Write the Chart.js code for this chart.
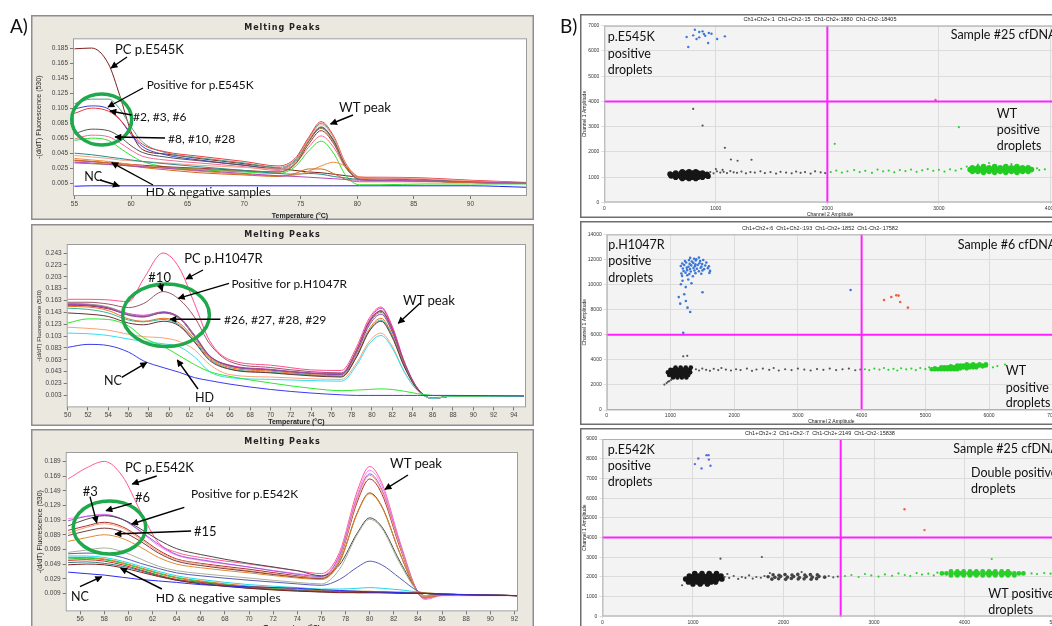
<!DOCTYPE html>
<html>
<head>
<meta charset="utf-8">
<script src="https://cdn.jsdelivr.net/npm/chart.js@4.4.1/dist/chart.umd.min.js"></script>
<style>
  html, body { margin: 0; padding: 0; background: #fff; width: 1052px; height: 626px; overflow: hidden; }
  .box { position: absolute; }
  canvas { display: block; }
  #notes { position: absolute; left: 0; top: 0; width: 1052px; height: 626px; pointer-events: none; }
  #notes text { font-family: Lato, "Open Sans", sans-serif; fill: #111; }
</style>
</head>
<body>
<div class="box" style="left:31px;top:15px;width:503px;height:205px"><canvas id="a1"></canvas></div>
<div class="box" style="left:31px;top:224.3px;width:503px;height:202px"><canvas id="a2"></canvas></div>
<div class="box" style="left:31px;top:429.3px;width:503px;height:203px"><canvas id="a3"></canvas></div>
<div class="box" style="left:580px;top:14.3px;width:480px;height:204px"><canvas id="b1"></canvas></div>
<div class="box" style="left:580px;top:221.3px;width:480px;height:204px"><canvas id="b2"></canvas></div>
<div class="box" style="left:580px;top:428.3px;width:480px;height:210px"><canvas id="b3"></canvas></div>
<svg id="notes" xmlns="http://www.w3.org/2000/svg">
  <defs>
    <marker id="head" viewBox="0 0 10 10" refX="9" refY="5" markerUnits="userSpaceOnUse" markerWidth="8" markerHeight="7" orient="auto">
      <path d="M0,0 L10,5 L0,10 z" fill="#000"/>
    </marker>
  </defs>
</svg>

<script>
// ---------- A1: p.E545K melting peaks ----------
const A1_TEMP = [55, 56.5, 58, 59, 60, 61, 63, 66, 70, 73, 74.5, 75.7, 76.8, 77.9, 79, 80.2, 82, 86, 90, 95];
const A1_XTICKS = [55, 60, 65, 70, 75, 80, 85, 90];
const A1_YTICKS = [0.005, 0.025, 0.045, 0.065, 0.085, 0.105, 0.125, 0.145, 0.165, 0.185];
const A1_PC   = [0.184, 0.185, 0.164, 0.122, 0.074, 0.050, 0.044, 0.038, 0.031, 0.025, 0.022, 0.020, 0.019, 0.017, 0.015, 0.013, 0.012, 0.010, 0.007, 0.005];
const A1_S2   = [0.111, 0.117, 0.117, 0.104, 0.080, 0.060, 0.046, 0.039, 0.032, 0.026, 0.036, 0.064, 0.085, 0.066, 0.029, 0.012, 0.011, 0.009, 0.007, 0.005];
const A1_S3   = [0.104, 0.108, 0.104, 0.090, 0.070, 0.054, 0.043, 0.036, 0.029, 0.024, 0.034, 0.061, 0.079, 0.062, 0.028, 0.011, 0.010, 0.008, 0.007, 0.005];
const A1_S6   = [0.098, 0.105, 0.101, 0.090, 0.072, 0.057, 0.047, 0.041, 0.034, 0.028, 0.038, 0.066, 0.087, 0.068, 0.031, 0.013, 0.013, 0.012, 0.009, 0.006];
const A1_S8   = [0.071, 0.077, 0.075, 0.067, 0.055, 0.046, 0.040, 0.035, 0.029, 0.024, 0.034, 0.061, 0.080, 0.062, 0.027, 0.011, 0.010, 0.008, 0.006, 0.005];
const A1_S10  = [0.064, 0.069, 0.067, 0.059, 0.049, 0.041, 0.036, 0.032, 0.027, 0.022, 0.031, 0.053, 0.068, 0.053, 0.025, 0.011, 0.012, 0.011, 0.008, 0.005];
const A1_S28  = [0.062, 0.065, 0.062, 0.052, 0.042, 0.034, 0.027, 0.023, 0.020, 0.018, 0.027, 0.048, 0.061, 0.045, 0.015, 0.003, 0.003, 0.004, 0.004, 0.004];
const A1_NEG1 = [0.045, 0.043, 0.040, 0.038, 0.036, 0.034, 0.031, 0.027, 0.022, 0.018, 0.017, 0.018, 0.017, 0.014, 0.012, 0.010, 0.009, 0.008, 0.006, 0.005];
const A1_NEG2 = [0.042, 0.040, 0.038, 0.036, 0.035, 0.034, 0.032, 0.029, 0.026, 0.024, 0.034, 0.063, 0.083, 0.066, 0.030, 0.012, 0.012, 0.011, 0.008, 0.005];
const A1_NEG3 = [0.038, 0.036, 0.034, 0.032, 0.030, 0.028, 0.025, 0.021, 0.017, 0.015, 0.016, 0.021, 0.028, 0.033, 0.027, 0.013, 0.010, 0.008, 0.006, 0.005];
const A1_NEG4 = [0.036, 0.034, 0.032, 0.030, 0.028, 0.026, 0.023, 0.019, 0.016, 0.014, 0.018, 0.024, 0.024, 0.018, 0.010, 0.007, 0.007, 0.007, 0.006, 0.005];
const A1_NEG5 = [0.035, 0.034, 0.032, 0.031, 0.030, 0.029, 0.027, 0.025, 0.022, 0.020, 0.030, 0.057, 0.075, 0.058, 0.026, 0.010, 0.009, 0.008, 0.006, 0.005];
const A1_NEG6 = [0.033, 0.032, 0.030, 0.029, 0.028, 0.027, 0.025, 0.022, 0.018, 0.015, 0.014, 0.013, 0.012, 0.011, 0.010, 0.009, 0.009, 0.008, 0.007, 0.005];
const A1_NEG7 = [0.032, 0.031, 0.030, 0.029, 0.028, 0.027, 0.026, 0.024, 0.021, 0.020, 0.031, 0.060, 0.078, 0.060, 0.026, 0.010, 0.009, 0.008, 0.006, 0.005];
const A1_NC   = [0.0010, 0.0016, 0.0016, 0.0016, 0.0016, 0.0016, 0.0016, 0.0016, 0.0016, 0.0016, 0.0016, 0.0016, 0.0016, 0.0016, 0.0016, 0.0016, 0.0016, 0.0016, 0.0016, -0.0004];

// ---------- A2: p.H1047R melting peaks ----------
const A2_TEMP = [50, 52, 54, 56, 57.5, 59.4, 61, 62.5, 64, 66, 70, 74, 77, 78.5, 79.7, 80.9, 82, 83.2, 84.5, 86, 88, 95];
const A2_XTICKS = [50, 52, 54, 56, 58, 60, 62, 64, 66, 68, 70, 72, 74, 76, 78, 80, 82, 84, 86, 88, 90, 92, 94];
const A2_YTICKS = [0.003, 0.023, 0.043, 0.063, 0.083, 0.103, 0.123, 0.143, 0.163, 0.183, 0.203, 0.223, 0.243];
const A2_PC   = [0.165, 0.165, 0.164, 0.161, 0.200, 0.243, 0.218, 0.158, 0.095, 0.063, 0.054, 0.046, 0.045, 0.085, 0.132, 0.152, 0.120, 0.060, 0.015, -0.002, 0.002, 0.002];
const A2_S10  = [0.160, 0.160, 0.157, 0.151, 0.158, 0.178, 0.165, 0.135, 0.090, 0.060, 0.050, 0.043, 0.041, 0.080, 0.126, 0.146, 0.115, 0.058, 0.015, -0.002, 0.002, 0.002];
const A2_S26  = [0.158, 0.157, 0.152, 0.140, 0.137, 0.143, 0.133, 0.102, 0.068, 0.052, 0.046, 0.040, 0.039, 0.077, 0.123, 0.143, 0.112, 0.056, 0.014, -0.002, 0.002, 0.002];
const A2_S27  = [0.156, 0.155, 0.150, 0.138, 0.135, 0.143, 0.135, 0.105, 0.070, 0.053, 0.046, 0.040, 0.038, 0.075, 0.120, 0.140, 0.110, 0.055, 0.014, -0.002, 0.002, 0.002];
const A2_S28  = [0.153, 0.152, 0.146, 0.132, 0.128, 0.133, 0.125, 0.098, 0.066, 0.050, 0.044, 0.038, 0.036, 0.071, 0.114, 0.133, 0.105, 0.053, 0.013, -0.002, 0.002, 0.002];
const A2_S29  = [0.150, 0.148, 0.142, 0.130, 0.127, 0.131, 0.122, 0.095, 0.064, 0.048, 0.042, 0.037, 0.035, 0.069, 0.111, 0.130, 0.103, 0.052, 0.013, -0.002, 0.002, 0.002];
const A2_NEG1 = [0.142, 0.140, 0.136, 0.125, 0.122, 0.128, 0.120, 0.093, 0.062, 0.047, 0.041, 0.036, 0.034, 0.068, 0.110, 0.128, 0.101, 0.051, 0.013, -0.002, 0.002, 0.002];
const A2_NEG2 = [0.157, 0.156, 0.151, 0.141, 0.138, 0.144, 0.134, 0.102, 0.069, 0.054, 0.047, 0.041, 0.040, 0.080, 0.128, 0.150, 0.118, 0.059, 0.015, -0.002, 0.002, 0.002];
const A2_NEG3 = [0.118, 0.116, 0.113, 0.106, 0.102, 0.100, 0.094, 0.080, 0.055, 0.038, 0.034, 0.031, 0.030, 0.058, 0.093, 0.108, 0.086, 0.043, 0.011, -0.002, 0.002, 0.002];
const A2_NEG4 = [0.108, 0.107, 0.104, 0.098, 0.094, 0.090, 0.085, 0.068, 0.043, 0.033, 0.030, 0.028, 0.027, 0.054, 0.089, 0.104, 0.083, 0.042, 0.011, -0.002, 0.002, 0.002];
const A2_NEG5 = [0.155, 0.154, 0.149, 0.139, 0.136, 0.142, 0.133, 0.103, 0.069, 0.053, 0.046, 0.040, 0.039, 0.078, 0.125, 0.145, 0.114, 0.057, 0.014, -0.002, 0.002, 0.002];
const A2_HD   = [0.125, 0.132, 0.131, 0.120, 0.100, 0.086, 0.070, 0.055, 0.043, 0.035, 0.024, 0.015, 0.011, 0.012, 0.013, 0.014, 0.013, 0.010, 0.006, 0.003, 0.002, 0.002];
const A2_NC   = [0.084, 0.089, 0.087, 0.076, 0.061, 0.050, 0.042, 0.033, 0.028, 0.022, 0.013, 0.007, 0.004, 0.003, 0.003, 0.003, 0.003, 0.003, 0.003, 0.003, 0.003, 0.002];

// ---------- A3: p.E542K melting peaks ----------
const A3_TEMP = [55, 56.5, 58, 59.5, 61, 62.5, 64, 66, 70, 74, 76, 77.5, 79, 80, 81, 82.5, 84, 84.6, 86, 92.3];
const A3_XTICKS = [56, 58, 60, 62, 64, 66, 68, 70, 72, 74, 76, 78, 80, 82, 84, 86, 88, 90, 92];
const A3_YTICKS = [0.009, 0.029, 0.049, 0.069, 0.089, 0.109, 0.129, 0.149, 0.169, 0.189];
const A3_PC   = [0.165, 0.180, 0.189, 0.169, 0.121, 0.078, 0.065, 0.058, 0.049, 0.040, 0.036, 0.065, 0.150, 0.182, 0.160, 0.080, 0.010, 0.001, 0.006, 0.006];
const A3_S1   = [0.111, 0.114, 0.117, 0.110, 0.093, 0.074, 0.061, 0.054, 0.045, 0.036, 0.033, 0.062, 0.145, 0.177, 0.156, 0.078, 0.010, 0.002, 0.007, 0.006];
const A3_S6   = [0.108, 0.114, 0.116, 0.110, 0.094, 0.076, 0.062, 0.055, 0.045, 0.035, 0.032, 0.060, 0.141, 0.172, 0.151, 0.076, 0.010, 0.003, 0.007, 0.006];
const A3_S2   = [0.101, 0.110, 0.115, 0.110, 0.097, 0.082, 0.070, 0.062, 0.050, 0.040, 0.033, 0.048, 0.092, 0.112, 0.100, 0.053, 0.012, 0.006, 0.008, 0.006];
const A3_S3   = [0.095, 0.101, 0.106, 0.100, 0.085, 0.068, 0.056, 0.050, 0.042, 0.033, 0.030, 0.056, 0.135, 0.165, 0.145, 0.072, 0.010, 0.003, 0.007, 0.006];
const A3_S4   = [0.091, 0.099, 0.104, 0.098, 0.083, 0.066, 0.055, 0.049, 0.040, 0.032, 0.030, 0.057, 0.139, 0.170, 0.149, 0.074, 0.010, 0.003, 0.007, 0.006];
const A3_S5   = [0.088, 0.094, 0.098, 0.093, 0.080, 0.064, 0.053, 0.047, 0.039, 0.031, 0.029, 0.052, 0.120, 0.146, 0.128, 0.064, 0.010, 0.004, 0.007, 0.006];
const A3_S15  = [0.080, 0.085, 0.089, 0.084, 0.072, 0.058, 0.049, 0.044, 0.037, 0.030, 0.028, 0.051, 0.119, 0.145, 0.127, 0.064, 0.010, 0.004, 0.007, 0.006];
const A3_S7   = [0.065, 0.068, 0.071, 0.066, 0.056, 0.046, 0.040, 0.036, 0.030, 0.024, 0.022, 0.042, 0.090, 0.110, 0.098, 0.050, 0.011, 0.006, 0.008, 0.006];
const A3_S8   = [0.063, 0.064, 0.063, 0.058, 0.050, 0.043, 0.037, 0.033, 0.027, 0.022, 0.020, 0.028, 0.045, 0.053, 0.048, 0.030, 0.012, 0.009, 0.008, 0.006];
const A3_NEG1 = [0.060, 0.060, 0.058, 0.053, 0.046, 0.039, 0.033, 0.028, 0.021, 0.017, 0.015, 0.015, 0.016, 0.017, 0.016, 0.014, 0.011, 0.010, 0.008, 0.006];
const A3_NEG2 = [0.058, 0.058, 0.056, 0.051, 0.044, 0.037, 0.031, 0.026, 0.019, 0.015, 0.013, 0.012, 0.012, 0.012, 0.011, 0.011, 0.010, 0.010, 0.008, 0.006];
const A3_NEG3 = [0.056, 0.057, 0.055, 0.050, 0.043, 0.036, 0.030, 0.025, 0.018, 0.014, 0.012, 0.012, 0.011, 0.011, 0.011, 0.010, 0.010, 0.009, 0.008, 0.006];
const A3_NEG4 = [0.054, 0.055, 0.053, 0.048, 0.041, 0.034, 0.028, 0.024, 0.017, 0.013, 0.012, 0.011, 0.011, 0.011, 0.010, 0.010, 0.010, 0.009, 0.008, 0.006];
const A3_NEG5 = [0.051, 0.052, 0.050, 0.046, 0.040, 0.033, 0.027, 0.023, 0.016, 0.013, 0.011, 0.011, 0.010, 0.010, 0.010, 0.010, 0.009, 0.009, 0.008, 0.006];
const A3_NEG6 = [0.048, 0.049, 0.048, 0.044, 0.038, 0.032, 0.027, 0.022, 0.016, 0.012, 0.011, 0.010, 0.010, 0.010, 0.010, 0.009, 0.009, 0.009, 0.008, 0.006];
const A3_NC   = [0.038, 0.036, 0.034, 0.031, 0.028, 0.026, 0.024, 0.021, 0.018, 0.016, 0.014, 0.013, 0.012, 0.011, 0.011, 0.010, 0.009, 0.009, 0.008, 0.006];

// ---------- B1: p.E545K ddPCR, sample #25 ----------
const B1_XTICKS = [0, 1000, 2000, 3000, 4000];
const B1_YTICKS = [0, 1000, 2000, 3000, 4000, 5000, 6000, 7000];
const B1_CUT = [2000, 4000];
const B1_MUT = [[738,6553],[797,6618],[812,6842],[851,6750],[881,6776],[937,6710],[961,6684],[1012,6473],[1081,6578],[753,6157],[931,6315],[851,6539],[893,6670],[827,6473],[905,6600]];
const B1_DOUBLE = [[2970,4060]];
const B1_NEG_CORE = [[620,1080],[660,1080],[700,1080],[740,1080],[780,1080],[820,1080],[860,1080],[900,1080],
  [640,1000],[690,1000],[740,1000],[790,1000],[840,1000],[880,1000],
  [640,1160],[690,1160],[740,1160],[790,1160],[840,1160],[880,1160],
  [700,950],[760,950],[820,950],[700,1210],[760,1210],[820,1210],
  [600,1050],[920,1110],[590,1120],[930,1040]];
const B1_NEG_SPARSE = [[950,1200],[980,1150],[1010,1230],[1040,1180],[1070,1210],[1100,1160],[1130,1240],[1160,1190],[1190,1170],
  [1230,1220],[1270,1150],[1310,1200],[1350,1180],[1400,1230],[1440,1160],[1490,1200],[1540,1140],[1580,1210],[1630,1180],
  [1680,1150],[1720,1220],[1760,1170],[1800,1200],[1850,1140],[1890,1230],[1940,1190],[1980,1160],
  [797,3705],[881,3045],[1081,2163],[1135,1700],[1195,1650],[1320,1690],[1000,1320],[1060,1290]];
const B1_WT_SPARSE = [[2030,1200],[2080,1260],[2130,1180],[2180,1230],[2240,1280],[2290,1200],[2340,1250],[2400,1170],[2450,1300],
  [2500,1230],[2550,1260],[2600,1190],[2650,1280],[2700,1240],[2750,1300],[2800,1210],[2850,1270],[2900,1320],[2950,1250],
  [3000,1290],[3050,1220],[3100,1310],[3150,1260],[3200,1330],[3900,1280],[3950,1310],[3880,1350],[3250,1420],[3350,1500],
  [3450,1560],[3650,1520],[3700,1480],[3800,1450],[2066,2321],[3179,2980]];
const B1_WT_CORE = [[3280,1300],[3330,1300],[3380,1300],[3430,1300],[3480,1300],[3530,1300],[3580,1300],[3630,1300],[3680,1300],[3730,1300],[3780,1300],[3830,1300],
  [3300,1230],[3350,1230],[3400,1230],[3450,1230],[3500,1230],[3550,1230],[3600,1230],[3650,1230],[3700,1230],[3750,1230],[3800,1230],
  [3300,1370],[3350,1370],[3400,1370],[3450,1370],[3500,1370],[3550,1370],[3600,1370],[3650,1370],[3700,1370],[3750,1370],[3800,1370],
  [3400,1190],[3500,1190],[3600,1190],[3700,1190],[3400,1420],[3500,1420],[3600,1420],[3700,1420]];

// ---------- B2: p.H1047R ddPCR, sample #6 ----------
const B2_XTICKS = [0, 1000, 2000, 3000, 4000, 5000, 6000, 7000];
const B2_YTICKS = [0, 2000, 4000, 6000, 8000, 10000, 12000, 14000];
const B2_CUT = [4000, 6000];
const B2_MUT = [[1310,12130],[1372,12060],[1447,12150],[1405,12010],
  [1228,11880],[1291,11950],[1336,11840],[1398,11920],[1466,11870],[1515,11960],
  [1186,11680],[1247,11760],[1302,11650],[1357,11730],[1392,11610],[1455,11700],[1498,11640],[1563,11750],
  [1163,11480],[1215,11560],[1283,11420],[1326,11530],[1385,11470],[1428,11560],[1487,11430],[1546,11520],[1604,11460],
  [1195,11280],[1256,11350],[1307,11240],[1362,11320],[1416,11260],[1474,11340],[1528,11230],[1588,11310],
  [1206,11080],[1262,11150],[1318,11040],[1377,11120],[1446,11060],[1503,11130],[1622,11090],
  [1172,10880],[1236,10950],[1297,10840],[1393,10910],[1484,10860],[1612,10930],[1183,10690],[1265,10740],[1352,10660],
  [1164,10027],[1217,9227],[1242,8693],[1268,8160],[1310,7813],[1201,6160],[1503,9387],[1154,8480],[1190,10300],
  [1240,9800],[1280,10400],[1130,9000],[1330,10100],[3827,9573]];
const B2_DOUBLE = [[4352,8773],[4466,9013],[4544,9147],[4580,9120],[4606,8613],[4726,8160]];
const B2_NEG_CORE = [[960,3000],[1010,3000],[1060,3000],[1110,3000],[1160,3000],[1210,3000],[1260,3000],[1310,3000],
  [980,2800],[1030,2800],[1080,2800],[1130,2800],[1180,2800],[1230,2800],[1280,2800],
  [1000,3200],[1050,3200],[1100,3200],[1150,3200],[1200,3200],[1250,3200],[1300,3200],
  [1040,2600],[1110,2600],[1180,2600],[1250,2600],[1080,3380],[1160,3380],[1240,3380],[1320,3380]];
const B2_NEG_SPARSE = [[905,2027],[940,2150],[980,2300],[1010,2400],[960,2250],[1201,4280],[1264,4320],
  [1400,3250],[1450,3150],[1500,3300],[1560,3200],[1620,3120],[1680,3280],[1750,3180],[1800,3350],[1870,3220],[1950,3150],
  [2030,3250],[2100,3180],[2200,3300],[2280,3120],[2350,3230],[2450,3300],[2550,3200],[2620,3350],[2700,3150],[2800,3250],
  [2900,3180],[3000,3300],[3100,3220],[3200,3150],[3300,3260],[3400,3200],[3500,3300],[3600,3180],[3700,3240],[3800,3300],
  [3900,3170],[3980,3230]];
const B2_WT_SPARSE = [[4050,3250],[4120,3180],[4200,3300],[4280,3220],[4350,3350],[4420,3200],[4500,3280],[4560,3150],
  [4620,3330],[4700,3240],[4780,3300],[4850,3180],[4920,3350],[5000,3260],[5060,3400],[5120,3300],[6130,3500],[6250,3620],[6060,3400]];
const B2_WT_CORE = [[5100,3250],[5150,3250],[5200,3250],[5250,3250],[5300,3250],[5350,3250],[5400,3250],[5450,3250],[5500,3250],
  [5250,3400],[5300,3400],[5350,3400],[5400,3400],[5450,3400],[5500,3400],[5550,3400],[5600,3400],[5650,3400],[5700,3400],[5750,3400],[5800,3400],
  [5500,3550],[5550,3550],[5600,3550],[5650,3550],[5700,3550],[5750,3550],[5800,3550],[5850,3550],[5900,3550],[5950,3550],
  [5150,3320],[5250,3320],[5350,3320],[5450,3320],[5550,3320],[5650,3320],
  [5400,3480],[5500,3480],[5600,3480],[5700,3480],[5800,3480],[5900,3480],[5650,3650],[5750,3650],[5850,3650],[5950,3650]];

// ---------- B3: p.E542K ddPCR, sample #25 ----------
const B3_XTICKS = [0, 1000, 2000, 3000, 4000, 5000];
const B3_YTICKS = [0, 1000, 2000, 3000, 4000, 5000, 6000, 7000, 8000, 9000];
const B3_CUT = [2632, 4000];
const B3_MUT = [[1022,7727],[1059,8013],[1150,8181],[1176,7954],[1194,7643],[1095,7509],[1172,8181]];
const B3_DOUBLE = [[3337,5437],[3557,4377]];
const B3_NEG_CORE = [[920,1900],[970,1900],[1020,1900],[1070,1900],[1120,1900],[1170,1900],[1220,1900],[1270,1900],[1320,1900],
  [950,1750],[1000,1750],[1050,1750],[1100,1750],[1150,1750],[1200,1750],[1250,1750],
  [960,2050],[1010,2050],[1060,2050],[1110,2050],[1160,2050],[1210,2050],[1260,2050],[1310,2050],
  [1020,2180],[1100,2180],[1180,2180],[1260,2180],[1000,1650],[1080,1650],[1160,1650]];
const B3_NEG_CORE2 = [[1830,2010],[1905,1980],[1968,2030],[2043,1990],[2112,2020],[2176,1970],[2251,2010],[2318,1990],[2392,2030],[2455,1990],
  [1872,1890],[1946,1910],[2024,1880],[2087,1920],[2163,1895],[2228,1905],[2305,1885],[2366,1915],
  [1885,2115],[1951,2090],[2017,2125],[2094,2100],[2158,2130],[2236,2095],[2297,2120],[2374,2105]];
const B3_NEG_SPARSE = [[880,1580],[1350,2000],[1380,2150],[1304,2929],[1761,3013],
  [1400,1950],[1450,2050],[1500,1900],[1540,2000],[1580,1950],[1620,2080],[1660,1920],[1700,2000],[1750,1960],[1790,2050],
  [2500,2050],[2550,1980],[2600,2020],[1850,2200],[2200,2250]];
const B3_WT_SPARSE = [[2680,2050],[2750,2100],[2830,2000],[2900,2150],[2970,2080],[3050,2020],[3120,2130],[3200,2060],
  [3270,2180],[3340,2100],[3400,2050],[3470,2200],[3530,2120],[3600,2170],[3660,2080],[3700,2220],
  [4740,2180],[4800,2150],[4880,2200],[4950,2170],[4300,2912]];
const B3_WT_CORE = [[3750,2180],[3800,2180],[3850,2180],[3900,2180],[3950,2180],[4000,2180],[4050,2180],[4100,2180],[4150,2180],[4200,2180],[4250,2180],[4300,2180],[4350,2180],[4400,2180],[4450,2180],[4500,2180],[4550,2180],[4600,2180],[4650,2180],
  [3850,2080],[3920,2080],[3990,2080],[4060,2080],[4130,2080],[4200,2080],[4270,2080],[4340,2080],[4410,2080],[4480,2080],[4550,2080],
  [3850,2280],[3920,2280],[3990,2280],[4060,2280],[4130,2280],[4200,2280],[4270,2280],[4340,2280],[4410,2280],[4480,2280]];

// ---------- helpers ----------
const xy = (xs, ys) => xs.map((x, i) => ({x: x, y: ys[i]}));
const pts = list => list.map(p => ({x: p[0], y: p[1]}));

const framePlugin = {
  id: 'frame',
  beforeDraw(chart, args, o) {
    const {ctx, width, height, chartArea: a} = chart;
    ctx.save();
    ctx.fillStyle = o.bg;
    ctx.fillRect(0, 0, width, height);
    ctx.strokeStyle = o.border;
    ctx.lineWidth = 1.5;
    ctx.strokeRect(0.75, 0.75, width - 1.5, height - 1.5);
    ctx.fillStyle = o.plotBg;
    ctx.fillRect(a.left, a.top, a.right - a.left, a.bottom - a.top);
    ctx.font = o.titleFont;
    ctx.letterSpacing = o.spacing;
    ctx.fillStyle = '#222';
    ctx.textAlign = 'center';
    ctx.textBaseline = 'middle';
    ctx.fillText(o.title, width / 2, o.titleY);
    ctx.restore();
  },
  afterDatasetsDraw(chart, args, o) {
    const {ctx, chartArea: a, scales} = chart;
    ctx.save();
    if (o.cut) {
      const px = scales.x.getPixelForValue(o.cut[0]);
      const py = scales.y.getPixelForValue(o.cut[1]);
      ctx.strokeStyle = '#ff22ff';
      ctx.lineWidth = 2;
      ctx.beginPath();
      ctx.moveTo(px, a.top); ctx.lineTo(px, a.bottom);
      ctx.moveTo(a.left, py); ctx.lineTo(a.right, py);
      ctx.stroke();
    }
    ctx.strokeStyle = o.plotBorder;
    ctx.lineWidth = 1;
    ctx.strokeRect(a.left + 0.5, a.top + 0.5, a.right - a.left - 1, a.bottom - a.top - 1);
    ctx.restore();
  }
};

function melt(id, temp, series, o) {
  new Chart(document.getElementById(id), {
    type: 'line',
    data: {
      datasets: series.map(s => ({
        data: xy(temp, s[0]), borderColor: s[1], borderWidth: 1,
        pointRadius: 0, cubicInterpolationMode: 'monotone', fill: false
      }))
    },
    options: {
      responsive: true, maintainAspectRatio: false, animation: false, devicePixelRatio: 1,
      layout: {padding: {top: o.top, right: o.right, bottom: 0, left: 0}},
      plugins: {
        legend: {display: false}, tooltip: {enabled: false},
        frame: {bg: '#ebe8e0', border: '#8e8e8e', plotBg: '#ffffff', plotBorder: '#9c9c9c',
                title: 'Melting Peaks', titleY: o.titleY, titleFont: 'bold 8px "DejaVu Sans"', spacing: '1px'}
      },
      scales: {
        x: {
          type: 'linear', min: o.xmin, max: o.xmax,
          afterBuildTicks: ax => { ax.ticks = o.xticks.map(v => ({value: v})); },
          afterFit: ax => { ax.height = o.xh; ax.paddingLeft = 0; ax.paddingRight = 0; },
          grid: {drawOnChartArea: false, tickLength: 3, color: '#777'},
          border: {display: false},
          ticks: {autoSkip: false, maxRotation: 0, padding: 1, color: '#444', font: {family: 'Liberation Sans', size: 6.5}},
          title: {display: true, text: 'Temperature (°C)', color: '#222', padding: {top: o.xtp, bottom: 0},
                  font: {family: 'Liberation Sans', size: 7, weight: 'bold'}}
        },
        y: {
          type: 'linear', min: o.ymin, max: o.ymax,
          afterBuildTicks: ax => { ax.ticks = o.yticks.map(v => ({value: v})); },
          afterFit: ax => { ax.width = o.yw; ax.paddingTop = 0; ax.paddingBottom = 0; },
          grid: {drawOnChartArea: false, tickLength: 3, color: '#777'},
          border: {display: false},
          ticks: {autoSkip: false, padding: 2, color: '#444', font: {family: 'Liberation Sans', size: 6.5},
                  callback: v => v.toFixed(3)},
          title: {display: true, text: '-(d/dT) Fluorescence (530)', color: '#222', padding: {top: o.ytp, bottom: 0},
                  font: {family: 'Liberation Sans', size: o.ytSize}}
        }
      }
    },
    plugins: [framePlugin]
  });
}

function droplets(id, groups, o) {
  new Chart(document.getElementById(id), {
    type: 'scatter',
    data: {
      datasets: groups.map(g => ({
        data: pts(g[0]), pointRadius: g[2], pointBackgroundColor: g[1], pointBorderWidth: 0, showLine: false
      }))
    },
    options: {
      responsive: true, maintainAspectRatio: false, animation: false, devicePixelRatio: 1,
      layout: {padding: {top: o.top, right: 2, bottom: 0, left: 0}},
      plugins: {
        legend: {display: false}, tooltip: {enabled: false},
        frame: {bg: '#ffffff', border: '#6e6e6e', plotBg: '#f3f3f3', plotBorder: '#b0b0b0',
                title: o.title, titleY: o.titleY, titleFont: '5.5px "Liberation Sans"', spacing: '0px', cut: o.cut}
      },
      scales: {
        x: {
          type: 'linear', min: 0, max: o.xmax,
          afterBuildTicks: ax => { ax.ticks = o.xticks.map(v => ({value: v})); },
          afterFit: ax => { ax.height = o.xh; ax.paddingLeft = 0; ax.paddingRight = 0; },
          grid: {color: '#dcdcdc', tickLength: 2},
          border: {display: false},
          ticks: {autoSkip: false, maxRotation: 0, padding: 1, color: '#333', font: {family: 'Liberation Sans', size: 5},
                  callback: v => String(v)},
          title: {display: true, text: 'Channel 2 Amplitude', color: '#222', padding: {top: 0, bottom: 0},
                  font: {family: 'Liberation Sans', size: 5}}
        },
        y: {
          type: 'linear', min: 0, max: o.ymax,
          afterBuildTicks: ax => { ax.ticks = o.yticks.map(v => ({value: v})); },
          afterFit: ax => { ax.width = o.yw; ax.paddingTop = 0; ax.paddingBottom = 0; },
          grid: {color: '#dcdcdc', tickLength: 3},
          border: {display: false},
          ticks: {autoSkip: false, padding: 2, color: '#333', font: {family: 'Liberation Sans', size: 5},
                  callback: v => String(v)},
          title: {display: true, text: 'Channel 1 Amplitude', color: '#222', padding: {top: 1.5, bottom: 0},
                  font: {family: 'Liberation Sans', size: 5}}
        }
      }
    },
    plugins: [framePlugin]
  });
}

// ---------- melting peak panels ----------
melt('a1', A1_TEMP, [
  [A1_NEG6, '#b04ab8'], [A1_NEG4, '#d2691e'], [A1_NEG3, '#ee8a3a'], [A1_NEG1, '#2a8c88'],
  [A1_NEG7, '#8a8a3a'], [A1_NEG5, '#a52a2a'], [A1_NEG2, '#f7a08a'],
  [A1_S28, '#2ee02e'], [A1_S10, '#f06a9a'], [A1_S8, '#555555'],
  [A1_S6, '#ec3b3b'], [A1_S3, '#3a40c8'], [A1_S2, '#5f9a86'],
  [A1_PC, '#7f1f1f'], [A1_NC, '#1c1cff']
], {top: 23.3, right: 7, xh: 24, yw: 42, xtp: 1, ytp: 4, ytSize: 7, titleY: 12.7,
    xmin: 54.87, xmax: 95, ymin: -0.012, ymax: 0.198, xticks: A1_XTICKS, yticks: A1_YTICKS});

melt('a2', A2_TEMP, [
  [A2_NC, '#3b3bf0'], [A2_HD, '#2ee82e'], [A2_NEG4, '#30dff0'], [A2_NEG3, '#f9a07a'],
  [A2_NEG1, '#6b2e2e'], [A2_S29, '#3cb09a'], [A2_S28, '#e8731e'], [A2_S27, '#8e44ad'],
  [A2_S26, '#8c8c8c'], [A2_NEG5, '#b22222'], [A2_NEG2, '#d63ad6'],
  [A2_S10, '#9c5566'], [A2_PC, '#ff4f8b']
], {top: 20, right: 8, xh: 18.6, yw: 35.7, xtp: 0, ytp: 4.5, ytSize: 6, titleY: 11.4,
    xmin: 49.9, xmax: 95.2, ymin: -0.0172, ymax: 0.2582, xticks: A2_XTICKS, yticks: A2_YTICKS});

melt('a3', A3_TEMP, [
  [A3_NC, '#2b2bf0'], [A3_NEG6, '#8b1a1a'], [A3_NEG5, '#208080'], [A3_NEG4, '#e02020'],
  [A3_NEG3, '#30c030'], [A3_NEG2, '#e8781e'], [A3_NEG1, '#20d8e8'],
  [A3_S8, '#5a5ab4'], [A3_S7, '#a9b09a'], [A3_S15, '#e08a30'], [A3_S5, '#7a3a3a'],
  [A3_S4, '#f4a07a'], [A3_S3, '#b03030'], [A3_S2, '#4a4a4a'], [A3_S6, '#9a5fd0'],
  [A3_S1, '#ff7fff'], [A3_PC, '#ff5c8d']
], {top: 23, right: 16, xh: 20.6, yw: 34.7, xtp: 1, ytp: 4.5, ytSize: 7, titleY: 13,
    xmin: 54.8, xmax: 92.3, ymin: -0.0155, ymax: 0.2018, xticks: A3_XTICKS, yticks: A3_YTICKS});

// ---------- droplet panels ----------
droplets('b1', [
  [B1_NEG_SPARSE, '#555555', 1.1], [B1_NEG_CORE, '#161616', 2.8],
  [B1_WT_SPARSE, '#2fd22f', 1.1], [B1_WT_CORE, '#22cc22', 2.8],
  [B1_MUT, '#3c78d8', 1.2], [B1_DOUBLE, '#f06040', 1.2]
], {title: 'Ch1+Ch2+:1  Ch1+Ch2-:15  Ch1-Ch2+:1880  Ch1-Ch2-:18405', titleY: 5.7, top: 11.7,
    xh: 15.6, yw: 24.3, xmax: 4050, ymax: 7000, xticks: B1_XTICKS, yticks: B1_YTICKS, cut: B1_CUT});

droplets('b2', [
  [B2_NEG_SPARSE, '#555555', 1.1], [B2_NEG_CORE, '#161616', 2.3],
  [B2_WT_SPARSE, '#2fd22f', 1.1], [B2_WT_CORE, '#22cc22', 2.3],
  [B2_MUT, '#3c78d8', 1.3], [B2_DOUBLE, '#f06040', 1.3]
], {title: 'Ch1+Ch2+:6  Ch1+Ch2-:193  Ch1-Ch2+:1852  Ch1-Ch2-:17582', titleY: 7.7, top: 13.4,
    xh: 15, yw: 26.7, xmax: 7050, ymax: 14000, xticks: B2_XTICKS, yticks: B2_YTICKS, cut: B2_CUT});

droplets('b3', [
  [B3_NEG_SPARSE, '#555555', 1.1], [B3_NEG_CORE, '#161616', 2.8], [B3_NEG_CORE2, '#444444', 1.8],
  [B3_WT_SPARSE, '#2fd22f', 1.1], [B3_WT_CORE, '#28cf28', 2.4],
  [B3_MUT, '#5a6ae0', 1.2], [B3_DOUBLE, '#f06040', 1.2]
], {title: 'Ch1+Ch2+:2  Ch1+Ch2-:7  Ch1-Ch2+:2149  Ch1-Ch2-:15838', titleY: 5.7, top: 11,
    xh: 21.6, yw: 22.4, xmax: 5010, ymax: 9000, xticks: B3_XTICKS, yticks: B3_YTICKS, cut: B3_CUT});

// ---------- annotations (page pixels) ----------
const NOTE_TEXT = [
  ['A)', 10, 25, 19], ['B)', 560, 25, 19],
  ['PC p.E545K', 115, 49, 13], ['Positive for p.E545K', 146.7, 84, 11.9], ['#2, #3, #6', 133, 116, 12],
  ['#8, #10, #28', 168, 138, 12], ['WT peak', 339, 106.7, 13.2], ['NC', 84.3, 176.7, 12.5],
  ['HD & negative samples', 145.7, 191.7, 12.2],
  ['PC p.H1047R', 184.3, 258.3, 13], ['#10', 148.3, 276.7, 13], ['Positive for p.H1047R', 231.4, 283.3, 11.9],
  ['#26, #27, #28, #29', 223.9, 319.3, 12.2], ['WT peak', 403, 300, 13.2], ['NC', 104, 380.7, 12.5], ['HD', 195, 397.7, 12.5],
  ['PC p.E542K', 125, 466.7, 13], ['#3', 82.7, 490.7, 13], ['#6', 135, 497.3, 13], ['Positive for p.E542K', 191.1, 493.3, 11.9],
  ['#15', 193.9, 531, 13], ['WT peak', 390, 463, 13.2], ['NC', 71, 596, 12.5], ['HD & negative samples', 155.7, 597.7, 12.2],
  ['p.E545K', 607.7, 36.7, 12.5], ['positive', 607.7, 53, 12.5], ['droplets', 607.7, 69.7, 12.5],
  ['Sample #25 cfDNA', 950.7, 34.3, 12.5],
  ['WT', 996.7, 113.3, 12.5], ['positive', 996.7, 129.3, 12.5], ['droplets', 996.7, 145.7, 12.5],
  ['p.H1047R', 608.3, 244.7, 12.5], ['positive', 608.3, 260.7, 12.5], ['droplets', 608.3, 277, 12.5],
  ['Sample #6 cfDNA', 957.7, 244.7, 12.5],
  ['WT', 1005.7, 370.7, 12.5], ['positive', 1005.7, 387, 12.5], ['droplets', 1005.7, 402.3, 12.5],
  ['p.E542K', 607.7, 449.3, 12.5], ['positive', 607.7, 465, 12.5], ['droplets', 607.7, 481, 12.5],
  ['Sample #25 cfDNA', 953.3, 448.3, 12.5],
  ['Double positive', 971, 472.7, 12.5], ['droplets', 971, 488.3, 12.5],
  ['WT positive', 988.3, 593.3, 12.5], ['droplets', 988.3, 609.3, 12.5]
];
const NOTE_ARROWS = [
  [127, 57, 111, 68], [143, 88, 108, 107], [131.7, 115, 110, 111], [165, 138, 115, 137],
  [353, 115, 330.6, 124], [100, 180, 119.3, 186], [153, 185, 111.7, 162.7],
  [203, 270, 186, 279], [160, 283.3, 162.3, 291], [229, 283.3, 178.3, 298.3], [220.4, 319.3, 170, 319.3],
  [420, 303.3, 398.3, 323.3], [121.7, 377.3, 146.7, 362.7], [198, 389, 177.3, 360],
  [156.7, 476, 132.3, 484], [90, 496.7, 96.7, 522.7], [131.7, 503.3, 106, 510.7], [184.3, 507.3, 131.7, 524],
  [191.1, 531, 115, 534], [408, 475, 385, 489.3], [80, 586.7, 101.7, 576.7], [161.9, 589, 120.7, 568.3]
];
const NOTE_RINGS = [[101.7, 119.5, 30, 25.5], [166, 315.3, 43.4, 31.3], [109.5, 527.5, 36.2, 26.5]];

const svg = document.getElementById('notes');
const NS = 'http://www.w3.org/2000/svg';
NOTE_RINGS.forEach(r => {
  const e = document.createElementNS(NS, 'ellipse');
  e.setAttribute('cx', r[0]); e.setAttribute('cy', r[1]); e.setAttribute('rx', r[2]); e.setAttribute('ry', r[3]);
  e.setAttribute('fill', 'none'); e.setAttribute('stroke', '#1fa84c'); e.setAttribute('stroke-width', 3.5);
  svg.appendChild(e);
});
NOTE_ARROWS.forEach(a => {
  const l = document.createElementNS(NS, 'line');
  l.setAttribute('x1', a[0]); l.setAttribute('y1', a[1]); l.setAttribute('x2', a[2]); l.setAttribute('y2', a[3]);
  l.setAttribute('stroke', '#000'); l.setAttribute('stroke-width', 1.4); l.setAttribute('marker-end', 'url(#head)');
  svg.appendChild(l);
});
NOTE_TEXT.forEach(t => {
  const e = document.createElementNS(NS, 'text');
  e.setAttribute('x', t[1]); e.setAttribute('y', t[2]); e.setAttribute('font-size', t[3]);
  e.setAttribute('dominant-baseline', 'central');
  e.textContent = t[0];
  svg.appendChild(e);
});
</script>
</body>
</html>
